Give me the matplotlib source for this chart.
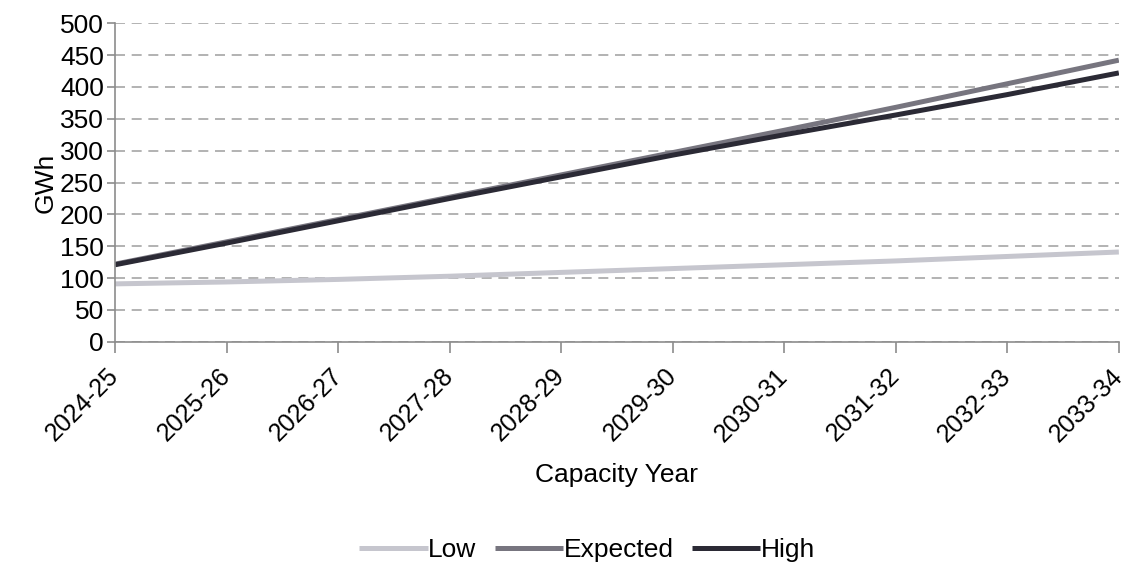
import matplotlib.pyplot as plt

# capacity years and scenario values (GWh)
years = ['2024-25', '2025-26', '2026-27', '2027-28', '2028-29',
         '2029-30', '2030-31', '2031-32', '2032-33', '2033-34']
low = [91, 94, 98, 103, 109, 115, 121, 127, 134, 141]
expected = [122, 157, 192, 227, 262, 297, 332, 368, 405, 442]
high = [121, 155, 190, 225, 259, 293, 325, 356, 388, 422]

plt.rcParams['font.family'] = ['Liberation Sans', 'DejaVu Sans']
plt.rcParams['font.size'] = 19

fig = plt.figure(figsize=(11.29, 5.66), dpi=100)
ax = fig.add_axes([0.102, 0.396, 0.889, 0.563])

x = range(len(years))
ax.plot(x, low, color='#c6c6ce', lw=3.6, label='Low', solid_capstyle='butt')
ax.plot(x, expected, color='#77757f', lw=3.6, label='Expected', solid_capstyle='butt')
ax.plot(x, high, color='#2b2a35', lw=3.6, label='High', solid_capstyle='butt')

ax.set_xlim(0, len(years) - 1)
ax.set_ylim(0, 500)
ax.set_yticks(range(0, 501, 50))
ax.set_xticks(list(x))
ax.set_xticklabels(years, rotation=45, ha='right', va='center',
                   rotation_mode='anchor', fontsize=18)
ax.yaxis.grid(True, color='#a6a6a6', ls=(0, (6, 4)), lw=1.2)
ax.set_axisbelow(True)

for s in ['top', 'right']:
    ax.spines[s].set_visible(False)
for s in ['left', 'bottom']:
    ax.spines[s].set_color('#8c8c8c')
    ax.spines[s].set_linewidth(1.2)
ax.tick_params(axis='both', color='#8c8c8c', width=1.2, length=6, pad=2)
ax.tick_params(axis='x', length=8, pad=14)

ax.set_ylabel('GWh', labelpad=2)
ax.set_xlabel('Capacity Year', labelpad=12)

fig.legend(loc='lower center', bbox_to_anchor=(0.52, -0.035), ncol=3, frameon=False,
           handlelength=2.6, handletextpad=0.0, columnspacing=0.7)

fig.savefig('out.png', dpi=100)
